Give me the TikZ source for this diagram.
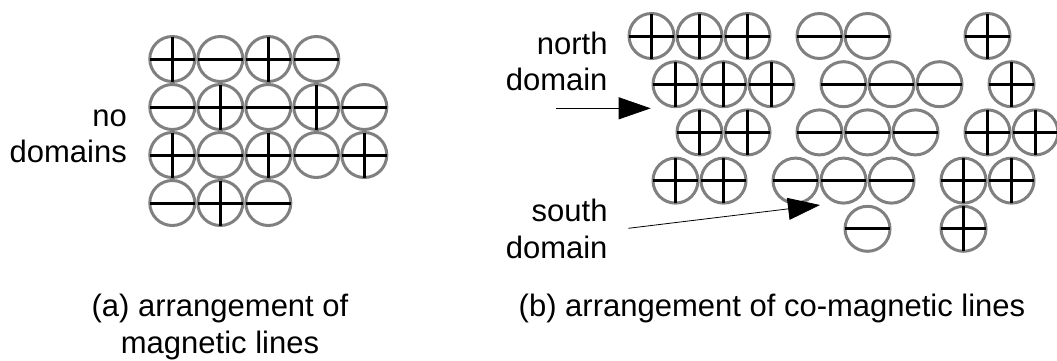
\documentclass[tikz,border=0pt]{standalone}
\usepackage{fontspec}
\setmainfont{Liberation Sans}
\usetikzlibrary{arrows.meta}
\tikzset{
  ring/.style={draw=black!50, line width=3pt},
  pole/.style={black, line width=3pt},
  txt/.style={font=\fontsize{31}{36.5}\selectfont, inner sep=0},
  arrow/.style={-{Triangle[length=32pt,width=22pt]}, line width=0.8pt}
}

\begin{document}
\begin{tikzpicture}[x=1pt, y=-1pt]
  \useasboundingbox (0,0) rectangle (1057,360);
  % (a) no domains: checkerboard of rings
  \foreach \i/\j in {0/0,1/0,2/0,3/0, 0/1,1/1,2/1,3/1,4/1, 0/2,1/2,2/2,3/2,4/2, 0/3,1/3,2/3}
    \draw[ring] ({172.3+48*\i},{59+48*\j}) circle (22.5);
  \foreach \i/\j in {0/0,1/0,2/0,3/0, 0/1,1/1,2/1,3/1,4/1, 0/2,1/2,2/2,3/2,4/2, 0/3,1/3,2/3}
    \draw[pole] ({172.3+48*\i-22.5},{59+48*\j}) -- ++(45,0);
  \foreach \i/\j in {0/0,2/0, 1/1,3/1, 0/2,2/2,4/2, 1/3}
    \draw[pole] ({172.3+48*\i},{59+48*\j-22.5}) -- ++(0,45);

  % (b) north and south domains
  \foreach \h/\r in {0/0,2/0,4/0,14/0, 1/1,3/1,5/1,15/1, 2/2,4/2,14/2,16/2, 1/3,3/3,13/3,15/3, 13/4,
                     7/0,9/0, 8/1,10/1,12/1, 7/2,9/2,11/2, 6/3,8/3,10/3, 9/4}
    \draw[ring] ({651.5+24*\h},{36+48.2*\r}) circle (22.5);
  \foreach \h/\r in {0/0,2/0,4/0,14/0, 1/1,3/1,5/1,15/1, 2/2,4/2,14/2,16/2, 1/3,3/3,13/3,15/3, 13/4,
                     7/0,9/0, 8/1,10/1,12/1, 7/2,9/2,11/2, 6/3,8/3,10/3, 9/4}
    \draw[pole] ({651.5+24*\h-22.5},{36+48.2*\r}) -- ++(45,0);
  \foreach \h/\r in {0/0,2/0,4/0,14/0, 1/1,3/1,5/1,15/1, 2/2,4/2,14/2,16/2, 1/3,3/3,13/3,15/3, 13/4}
    \draw[pole] ({651.5+24*\h},{36+48.2*\r-22.5}) -- ++(0,45);

  % labels (base = last line)
  \node[txt, align=right, anchor=base east] (nodom) at (127,162.7) {no\\domains};
  \node[txt, align=right, anchor=base east] (north) at (607.7,90.7) {north\\domain};
  \node[txt, align=right, anchor=base east] (south) at (607.7,258.3) {south\\domain};
  \node[txt, align=center, anchor=base] (capa) at (220,353) {(a) arrangement of\\magnetic lines};
  \node[txt, anchor=base] (capb) at (772,316.7) {(b) arrangement of co-magnetic lines};

  % arrows
  \coordinate (ntail) at (556,108.3);
  \coordinate (ntip) at (650.7,108.3);
  \coordinate (stail) at (628.3,228.3);
  \coordinate (stip) at (820,205);
  \draw[arrow] (ntail) -- (ntip);
  \draw[arrow] (stail) -- (stip);
\end{tikzpicture}
\end{document}
